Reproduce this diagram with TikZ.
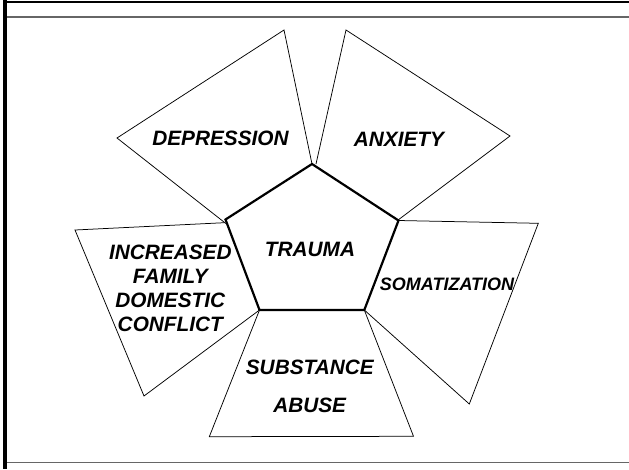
\documentclass[tikz,border=0pt]{standalone}
\usepackage{fontspec}
\setmainfont{Liberation Sans}
\begin{document}
\begin{tikzpicture}[x=1pt,y=-1pt,
  lbl/.style={font=\bfseries\itshape\fontsize{20.8}{24}\selectfont, inner sep=0pt, align=center},
  small/.style={font=\bfseries\itshape\fontsize{18}{20}\selectfont, inner sep=0pt},
  petal/.style={draw=black, line width=0.75pt, line join=miter},
  core/.style={draw=black, line width=2.2pt, line join=miter}]
\useasboundingbox (0,0) rectangle (629,469);
\fill[white] (0,0) rectangle (629,469);
% frame
\draw[line width=2.5pt] (3,1.8) -- (629,1.8);
\draw[line width=3.5pt] (5,0) -- (5,469);
\draw[black!60, line width=1.8pt] (7,16.7) -- (629,16.7);
\draw[black!60, line width=1.8pt] (7,462.5) -- (629,462.5);
% pentagon vertices
\coordinate (pT) at (312,164);
\coordinate (pR) at (398.5,220.5);
\coordinate (pBR) at (364.3,310);
\coordinate (pBL) at (259.5,310);
\coordinate (pL) at (225.5,219.5);
% outer vertices
\coordinate (dTop) at (284,30);
\coordinate (dLeft) at (117,138);
\coordinate (dBot) at (226.5,224);
\coordinate (aStart) at (316,164);
\coordinate (aTop) at (346,30);
\coordinate (aRight) at (510,136);
\coordinate (aBot) at (398.3,219.8);
\coordinate (sTR) at (538.3,223.3);
\coordinate (sBot) at (469.3,404);
\coordinate (uBR) at (413.5,436.3);
\coordinate (uBL) at (209.3,436.7);
\coordinate (iTR) at (224.3,222.7);
\coordinate (iTL) at (75,230);
\coordinate (iBot) at (144,396);
% petals
\draw[petal] (pT) -- (dTop) -- (dLeft) -- (dBot);
\draw[petal] (aStart) -- (aTop) -- (aRight) -- (aBot);
\draw[petal] (pR) -- (sTR) -- (sBot) -- (pBR);
\draw[petal] (pBR) -- (uBR) -- (uBL) -- (pBL);
\draw[petal] (pBL) -- (iBot) -- (iTL) -- (iTR);
% core
\draw[core] (pT) -- (pR) -- (pBR) -- (pBL) -- (pL) -- cycle;
% labels
\node[lbl] (trauma) at (310,249) {TRAUMA};
\node[lbl] (depression) at (220.5,138.3) {DEPRESSION};
\node[lbl] (anxiety) at (399,139) {ANXIETY};
\node[small] (somatization) at (447,284.3) {SOMATIZATION};
\node[lbl] (substance) at (309.8,367.7) {SUBSTANCE};
\node[lbl] (abuse) at (309.7,405.7) {ABUSE};
\node[lbl] (family) at (170.3,288) {INCREASED\\FAMILY\\DOMESTIC\\CONFLICT};
\end{tikzpicture}
\end{document}
